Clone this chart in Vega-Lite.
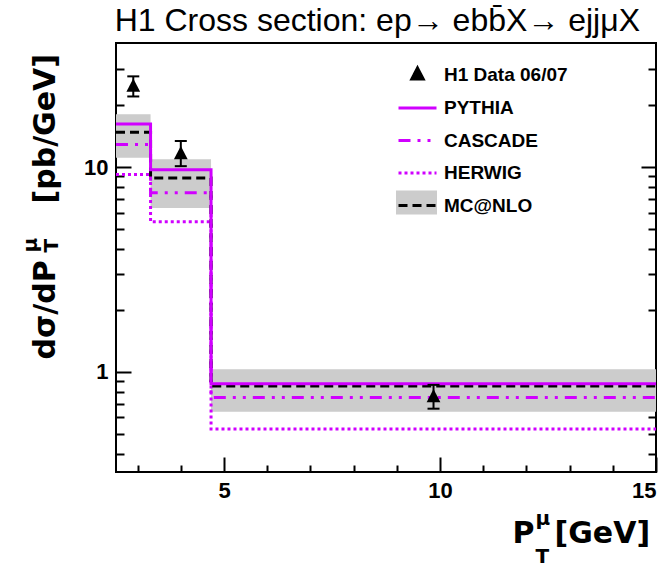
{
  "$schema": "https://vega.github.io/schema/vega-lite/v6.json",
  "width": 540,
  "height": 429,
  "autosize": "none",
  "padding": {"left": 116, "top": 43, "right": 8, "bottom": 96},
  "background": "white",
  "config": {
    "view": {"stroke": "black", "strokeWidth": 2},
    "font": "Liberation Sans",
    "axis": {"grid": false, "domain": false, "labelFont": "Liberation Sans", "titleFont": "DejaVu Sans", "labelColor": "black", "titleColor": "black", "tickColor": "black", "tickWidth": 2}
  },
  "title": {"text": "H1 Cross section: ep→ ebb̄X→ ejjμX", "anchor": "end", "dx": -22, "offset": 5, "fontSize": 32, "fontWeight": "normal", "font": "Liberation Sans", "color": "black"},
  "datasets": {
    "models": [
      {"series": "PYTHIA", "x": 2.5, "v": 16.2}, {"series": "PYTHIA", "x": 3.3, "v": 9.7}, {"series": "PYTHIA", "x": 4.7, "v": 0.875}, {"series": "PYTHIA", "x": 15, "v": 0.875},
      {"series": "CASCADE", "x": 2.5, "v": 12.9}, {"series": "CASCADE", "x": 3.3, "v": 7.5}, {"series": "CASCADE", "x": 4.7, "v": 0.75}, {"series": "CASCADE", "x": 15, "v": 0.75},
      {"series": "HERWIG", "x": 2.5, "v": 9.2}, {"series": "HERWIG", "x": 3.3, "v": 5.41}, {"series": "HERWIG", "x": 4.7, "v": 0.527}, {"series": "HERWIG", "x": 15, "v": 0.527},
      {"series": "MC@NLO", "x": 2.5, "v": 14.8}, {"series": "MC@NLO", "x": 3.3, "v": 8.85}, {"series": "MC@NLO", "x": 4.7, "v": 0.855}, {"series": "MC@NLO", "x": 15, "v": 0.855}
    ],
    "band": [
      {"series": "MC@NLO", "x": 2.5, "lo": 11.1, "hi": 18.1},
      {"series": "MC@NLO", "x": 3.3, "lo": 6.32, "hi": 10.9},
      {"series": "MC@NLO", "x": 4.7, "lo": 0.64, "hi": 1.03},
      {"series": "MC@NLO", "x": 15, "lo": 0.64, "hi": 1.03}
    ],
    "h1": [
      {"series": "H1 Data 06/07", "x": 2.9, "y": 24.8, "lo": 22.1, "hi": 27.7},
      {"series": "H1 Data 06/07", "x": 4.0, "y": 11.6, "lo": 10.1, "hi": 13.4},
      {"series": "H1 Data 06/07", "x": 9.85, "y": 0.756, "lo": 0.662, "hi": 0.865}
    ]
  },
  "layer": [
    {
      "data": {"name": "band"},
      "mark": {"type": "area", "interpolate": "step-after"},
      "encoding": {
        "x": {"field": "x", "type": "quantitative", "scale": {"domain": [2.5, 15], "nice": false, "zero": false},
          "axis": {"orient": "bottom", "values": [5, 10, 15], "tickSize": -15, "labelPadding": 23, "labelFontSize": 22, "labelFontWeight": "bold",
            "title": "P", "titleFontSize": 30, "titleFontWeight": "bold", "titleX": 396, "titleY": 70, "titleAlign": "left", "titleBaseline": "alphabetic", "titleAngle": 0}},
        "y": {"field": "lo", "type": "quantitative", "scale": {"type": "log", "domain": [0.325, 40.3], "nice": false},
          "axis": {"orient": "left", "values": [1, 10], "tickSize": -15, "labelPadding": 23, "labelFontSize": 22, "labelFontWeight": "bold",
            "title": "dσ/dP", "titleFontSize": 30, "titleFontWeight": "bold", "titleX": -62, "titleY": 316, "titleAlign": "left", "titleBaseline": "alphabetic", "titleAngle": 270}},
        "y2": {"field": "hi"},
        "fill": {"field": "series", "type": "nominal", "scale": {"domain": ["MC@NLO"], "range": ["#cccccc"]},
          "legend": {"title": null, "orient": "none", "legendX": 280, "legendY": 139, "padding": 0, "symbolType": "M-1,-0.59H1V0.59H-1Z", "symbolSize": 1681, "symbolStrokeWidth": 0, "symbolOpacity": 1, "labelOpacity": 0, "labelFontSize": 1, "labelOffset": 0, "zindex": 0}}
      }
    },
    {
      "data": {"name": "models"},
      "transform": [{"filter": "datum.series === 'HERWIG'"}],
      "mark": {"type": "line", "interpolate": "step-after", "strokeWidth": 3},
      "encoding": {
        "x": {"field": "x", "type": "quantitative", "scale": {"domain": [2.5, 15], "nice": false, "zero": false},
          "axis": {"orient": "bottom", "values": [3, 4, 6, 7, 8, 9, 11, 12, 13, 14], "tickSize": -7, "labels": false,
            "title": "[GeV]", "titleFontSize": 30, "titleFontWeight": "bold", "titleX": 438, "titleY": 70, "titleAlign": "left", "titleBaseline": "alphabetic", "titleAngle": 0}},
        "y": {"field": "v", "type": "quantitative", "scale": {"type": "log", "domain": [0.325, 40.3], "nice": false},
          "axis": {"orient": "left", "values": [0.4, 0.5, 0.6, 0.7, 0.8, 0.9, 2, 3, 4, 5, 6, 7, 8, 9, 20, 30], "tickSize": -8, "labels": false,
            "title": "[pb/GeV]", "titleFontSize": 30, "titleFontWeight": "bold", "titleX": -62, "titleY": 160, "titleAlign": "left", "titleBaseline": "alphabetic", "titleAngle": 270}},
        "color": {"field": "series", "type": "nominal",
          "scale": {"domain": ["H1 Data 06/07", "PYTHIA", "CASCADE", "HERWIG", "MC@NLO"], "range": ["black", "#d000ff", "#d000ff", "#d000ff", "black"]},
          "legend": {"title": null, "orient": "none", "legendX": 281, "legendY": 11, "padding": 0, "rowPadding": 1.5, "symbolSize": 1444, "symbolStrokeWidth": 3, "symbolFillColor": "black",
            "labelFont": "Liberation Sans", "labelFontSize": 19, "labelFontWeight": "bold", "labelColor": "black", "labelOffset": 6, "zindex": 1}},
        "strokeDash": {"field": "series", "type": "nominal",
          "scale": {"domain": ["H1 Data 06/07", "PYTHIA", "CASCADE", "HERWIG", "MC@NLO"], "range": [[1, 0], [1, 0], [12, 7, 3, 7, 3, 7], [3, 3], [9, 5]]},
          "legend": {"title": null, "orient": "none", "legendX": 281, "legendY": 11, "padding": 0, "rowPadding": 1.5, "symbolSize": 1444, "symbolStrokeWidth": 3, "symbolFillColor": "black",
            "labelFont": "Liberation Sans", "labelFontSize": 19, "labelFontWeight": "bold", "labelColor": "black", "labelOffset": 6, "zindex": 1}}
      }
    },
    {
      "data": {"name": "models"},
      "transform": [{"filter": "datum.series === 'CASCADE'"}],
      "mark": {"type": "line", "interpolate": "step-after", "strokeWidth": 3},
      "encoding": {
        "x": {"field": "x", "type": "quantitative", "scale": {"domain": [2.5, 15], "nice": false, "zero": false},
          "axis": {"orient": "bottom", "ticks": false, "labels": false,
            "title": "μ", "titleFontSize": 20, "titleFontWeight": "bold", "titleX": 419, "titleY": 52, "titleAlign": "left", "titleBaseline": "alphabetic", "titleAngle": 0}},
        "y": {"field": "v", "type": "quantitative", "scale": {"type": "log", "domain": [0.325, 40.3], "nice": false},
          "axis": {"orient": "left", "ticks": false, "labels": false,
            "title": "μ", "titleFontSize": 20, "titleFontWeight": "bold", "titleX": -80, "titleY": 209, "titleAlign": "left", "titleBaseline": "alphabetic", "titleAngle": 270}},
        "color": {"field": "series", "type": "nominal",
          "scale": {"domain": ["H1 Data 06/07", "PYTHIA", "CASCADE", "HERWIG", "MC@NLO"], "range": ["black", "#d000ff", "#d000ff", "#d000ff", "black"]}},
        "strokeDash": {"field": "series", "type": "nominal",
          "scale": {"domain": ["H1 Data 06/07", "PYTHIA", "CASCADE", "HERWIG", "MC@NLO"], "range": [[1, 0], [1, 0], [12, 7, 3, 7, 3, 7], [3, 3], [9, 5]]}}
      }
    },
    {
      "data": {"name": "models"},
      "transform": [{"filter": "datum.series === 'MC@NLO'"}],
      "mark": {"type": "line", "interpolate": "step-after", "strokeWidth": 3},
      "encoding": {
        "x": {"field": "x", "type": "quantitative", "scale": {"domain": [2.5, 15], "nice": false, "zero": false},
          "axis": {"orient": "bottom", "ticks": false, "labels": false,
            "title": "T", "titleFontSize": 20, "titleFontWeight": "bold", "titleX": 419, "titleY": 90, "titleAlign": "left", "titleBaseline": "alphabetic", "titleAngle": 0}},
        "y": {"field": "v", "type": "quantitative", "scale": {"type": "log", "domain": [0.325, 40.3], "nice": false},
          "axis": {"orient": "left", "ticks": false, "labels": false,
            "title": "T", "titleFontSize": 20, "titleFontWeight": "bold", "titleX": -59, "titleY": 209, "titleAlign": "left", "titleBaseline": "alphabetic", "titleAngle": 270}},
        "color": {"field": "series", "type": "nominal",
          "scale": {"domain": ["H1 Data 06/07", "PYTHIA", "CASCADE", "HERWIG", "MC@NLO"], "range": ["black", "#d000ff", "#d000ff", "#d000ff", "black"]}},
        "strokeDash": {"field": "series", "type": "nominal",
          "scale": {"domain": ["H1 Data 06/07", "PYTHIA", "CASCADE", "HERWIG", "MC@NLO"], "range": [[1, 0], [1, 0], [12, 7, 3, 7, 3, 7], [3, 3], [9, 5]]}}
      }
    },
    {
      "data": {"name": "models"},
      "transform": [{"filter": "datum.series === 'PYTHIA'"}],
      "mark": {"type": "line", "interpolate": "step-after", "strokeWidth": 3},
      "encoding": {
        "x": {"field": "x", "type": "quantitative", "scale": {"domain": [2.5, 15], "nice": false, "zero": false}, "axis": null},
        "y": {"field": "v", "type": "quantitative", "scale": {"type": "log", "domain": [0.325, 40.3], "nice": false},
          "axis": {"orient": "right", "values": [1, 10], "tickSize": -15, "labels": false, "title": null}},
        "color": {"field": "series", "type": "nominal",
          "scale": {"domain": ["H1 Data 06/07", "PYTHIA", "CASCADE", "HERWIG", "MC@NLO"], "range": ["black", "#d000ff", "#d000ff", "#d000ff", "black"]}},
        "strokeDash": {"field": "series", "type": "nominal",
          "scale": {"domain": ["H1 Data 06/07", "PYTHIA", "CASCADE", "HERWIG", "MC@NLO"], "range": [[1, 0], [1, 0], [12, 7, 3, 7, 3, 7], [3, 3], [9, 5]]}}
      }
    },
    {
      "data": {"name": "h1"},
      "mark": {"type": "rule", "color": "black", "strokeWidth": 2},
      "encoding": {
        "x": {"field": "x", "type": "quantitative", "scale": {"domain": [2.5, 15], "nice": false, "zero": false}, "axis": null},
        "y": {"field": "lo", "type": "quantitative", "scale": {"type": "log", "domain": [0.325, 40.3], "nice": false},
          "axis": {"orient": "right", "values": [0.4, 0.5, 0.6, 0.7, 0.8, 0.9, 2, 3, 4, 5, 6, 7, 8, 9, 20, 30], "tickSize": -8, "labels": false, "title": null}},
        "y2": {"field": "hi"}
      }
    },
    {
      "data": {"name": "h1"},
      "mark": {"type": "point", "shape": "stroke", "color": "black", "size": 144, "strokeWidth": 2, "opacity": 1},
      "encoding": {
        "x": {"field": "x", "type": "quantitative", "scale": {"domain": [2.5, 15], "nice": false, "zero": false}, "axis": null},
        "y": {"field": "hi", "type": "quantitative", "scale": {"type": "log", "domain": [0.325, 40.3], "nice": false}, "axis": null}
      }
    },
    {
      "data": {"name": "h1"},
      "mark": {"type": "point", "shape": "stroke", "color": "black", "size": 144, "strokeWidth": 2, "opacity": 1},
      "encoding": {
        "x": {"field": "x", "type": "quantitative", "scale": {"domain": [2.5, 15], "nice": false, "zero": false}, "axis": null},
        "y": {"field": "lo", "type": "quantitative", "scale": {"type": "log", "domain": [0.325, 40.3], "nice": false}, "axis": null}
      }
    },
    {
      "data": {"name": "h1"},
      "mark": {"type": "point", "filled": true, "size": 2100, "opacity": 1},
      "encoding": {
        "x": {"field": "x", "type": "quantitative", "scale": {"domain": [2.5, 15], "nice": false, "zero": false}, "axis": null},
        "y": {"field": "y", "type": "quantitative", "scale": {"type": "log", "domain": [0.325, 40.3], "nice": false}, "axis": null},
        "color": {"field": "series", "type": "nominal",
          "scale": {"domain": ["H1 Data 06/07", "PYTHIA", "CASCADE", "HERWIG", "MC@NLO"], "range": ["black", "#d000ff", "#d000ff", "#d000ff", "black"]}},
        "shape": {"field": "series", "type": "nominal",
          "scale": {"domain": ["H1 Data 06/07", "PYTHIA", "CASCADE", "HERWIG", "MC@NLO"], "range": ["M0,-0.34L0.3,0.24L-0.3,0.24Z", "M-1,0H1", "M-1,0H1", "M-1,0H1", "M-1,0H1"]},
          "legend": {"title": null, "orient": "none", "legendX": 281, "legendY": 11, "padding": 0, "rowPadding": 1.5, "symbolSize": 1444, "symbolStrokeWidth": 3, "symbolFillColor": "black",
            "labelFont": "Liberation Sans", "labelFontSize": 19, "labelFontWeight": "bold", "labelColor": "black", "labelOffset": 6, "zindex": 1}}
      }
    }
  ],
  "resolve": {"axis": {"x": "independent", "y": "independent"}}
}
